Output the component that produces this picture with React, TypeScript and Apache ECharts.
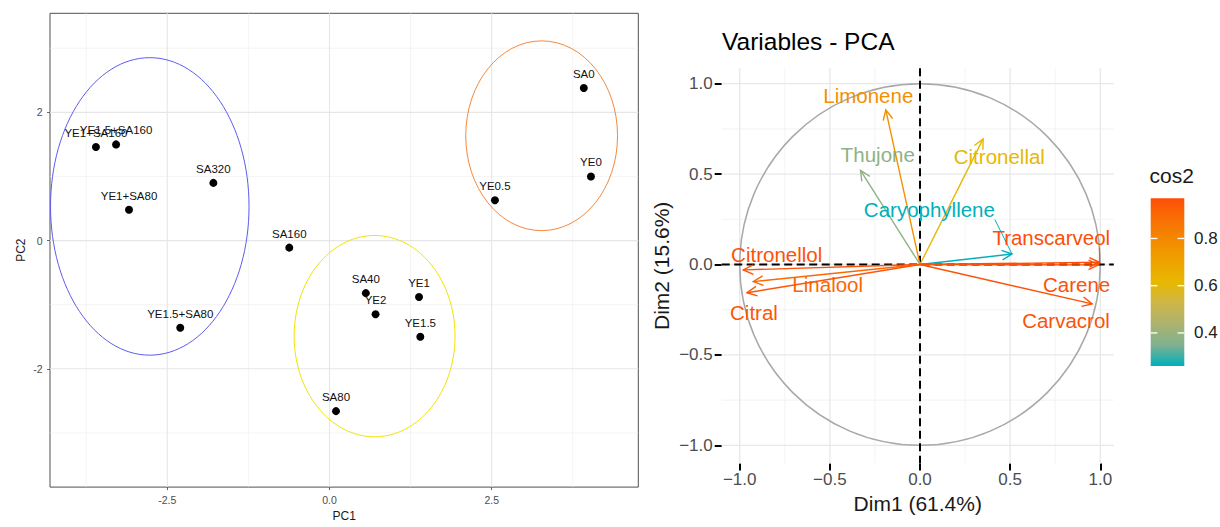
import React, { useEffect, useRef } from 'react';
import * as echarts from 'echarts';

const FONT = '"Liberation Sans", Arial, Helvetica, sans-serif';

// ---------- Left panel: individuals on PC1 / PC2 ----------
const sampleNames = ['SA0', 'YE0', 'YE0.5', 'SA160', 'SA40', 'YE2', 'YE1', 'YE1.5', 'SA80', 'YE1+SA160', 'YE1.5+SA160', 'SA320', 'YE1+SA80', 'YE1.5+SA80'];
const pc1 = [3.92, 4.03, 2.55, -0.62, 0.56, 0.71, 1.38, 1.40, 0.10, -3.60, -3.29, -1.79, -3.09, -2.30];
const pc2 = [2.38, 1.00, 0.63, -0.11, -0.82, -1.15, -0.88, -1.50, -2.66, 1.46, 1.50, 0.90, 0.48, -1.36];

const ellipseColors = ['#5c5cee', '#f5883c', '#f0e600'];
const ellipseCx = [-2.77, 3.27, 0.695];
const ellipseCy = [0.533, 1.635, -1.49];
const ellipseRx = [1.53, 1.17, 1.24];
const ellipseRy = [2.32, 1.48, 1.57];

const pc1Ticks = [-2.5, 0, 2.5];
const pc1Minor = [-3.75, -1.25, 1.25, 3.75];
const pc2Ticks = [-2, 0, 2];
const pc2Minor = [-3, -1, 1, 3];
const pc1Range = [-4.308, 4.76];
const pc2Range = [-3.845, 3.545];

// ---------- Right panel: variables ----------
const varNames = ['Limonene', 'Thujone', 'Citronellal', 'Caryophyllene', 'Transcarveol', 'Carene', 'Carvacrol', 'Citronellol', 'Linalool', 'Citral'];
const dim1 = [-0.19, -0.33, 0.35, 0.51, 0.995, 0.99, 0.955, -0.98, -0.925, -0.96];
const dim2 = [0.855, 0.52, 0.695, 0.058, 0.012, -0.002, -0.218, -0.03, -0.095, -0.156];
const cos2 = [0.77, 0.38, 0.61, 0.26, 0.97, 0.96, 0.96, 0.96, 0.9, 0.95];
const labelX = [-0.287, -0.234, 0.44, 0.052, 0.728, 0.869, 0.81, -0.795, -0.512, -0.921];
const labelY = [0.935, 0.611, 0.596, 0.305, 0.15, -0.108, -0.307, 0.058, -0.11, -0.267];
const showSegment = [0, 0, 0, 1, 1, 0, 0, 0, 0, 0];

const dimTicks = [-1, -0.5, 0, 0.5, 1];
const dimMinor = [-0.75, -0.25, 0.25, 0.75];
const dim1Range = [-1.1, 1.075];
const dim2Range = [-1.1, 1.085];

const cos2Ticks = [0.4, 0.6, 0.8];
const cos2Range = [0.26, 0.97];
// teal -> gold -> red-orange, sampled along a Lab-space path (evenly spaced stops)
const gradientColors = ['#00AFBB', '#80B18F', '#ABB36F', '#CEB649', '#E7B800', '#EEA200', '#F48A00', '#F96F04', '#FC4E07'];

const LABEL_SIZE = 20.5;

function gridData(vMajor: number[], vMinor: number[], hMajor: number[], hMinor: number[]) {
  const out: number[][] = [];
  vMinor.forEach((v) => out.push([v, 0, 0]));
  hMinor.forEach((v) => out.push([v, 1, 0]));
  vMajor.forEach((v) => out.push([v, 0, 1]));
  hMajor.forEach((v) => out.push([v, 1, 1]));
  return out;
}

type LS = { color: string; width: number; dash?: number[] };

function lineRender(styles: LS[]) {
  return (params: any, api: any) => {
    const cs = params.coordSys;
    const v = api.value(0);
    const orient = api.value(1);
    const s = styles[api.value(2)];
    let shape;
    if (orient === 0) {
      const px = api.coord([v, 0])[0];
      shape = { x1: px, y1: cs.y, x2: px, y2: cs.y + cs.height };
    } else {
      const py = api.coord([0, v])[1];
      shape = { x1: cs.x, y1: py, x2: cs.x + cs.width, y2: py };
    }
    return {
      type: 'line',
      shape,
      silent: true,
      style: { stroke: s.color, lineWidth: s.width, lineDash: s.dash || null, fill: null },
    };
  };
}

let measureCtx: CanvasRenderingContext2D | null = null;
function textWidth(t: string, size: number) {
  if (!measureCtx) measureCtx = document.createElement('canvas').getContext('2d');
  if (!measureCtx) return t.length * size * 0.55;
  measureCtx.font = `${size}px ${FONT}`;
  return measureCtx.measureText(t).width;
}

function ellipseRender(colors: string[], width: number) {
  return (params: any, api: any) => {
    const c = api.coord([api.value(0), api.value(1)]);
    const sz = api.size([api.value(2), api.value(3)]);
    return {
      type: 'ellipse',
      shape: { cx: c[0], cy: c[1], rx: sz[0], ry: sz[1] },
      silent: true,
      style: { fill: 'none', stroke: colors[api.value(4)], lineWidth: width },
    };
  };
}

function arrowRender(params: any, api: any) {
  const o = api.coord([0, 0]);
  const t = api.coord([api.value(0), api.value(1)]);
  const color = api.visual('color');
  const ang = Math.atan2(t[1] - o[1], t[0] - o[0]);
  const L = 11;
  const A = Math.PI / 7;
  const w1 = [t[0] - L * Math.cos(ang - A), t[1] - L * Math.sin(ang - A)];
  const w2 = [t[0] - L * Math.cos(ang + A), t[1] - L * Math.sin(ang + A)];
  const lp = api.coord([api.value(3), api.value(4)]);
  const name = varNames[params.dataIndex];
  const children: any[] = [
    { type: 'line', shape: { x1: o[0], y1: o[1], x2: t[0], y2: t[1] }, style: { stroke: color, lineWidth: 1.4 } },
    { type: 'polyline', shape: { points: [w1, t, w2] }, style: { stroke: color, lineWidth: 1.4, fill: null } },
    {
      type: 'text',
      x: lp[0],
      y: lp[1],
      style: { text: name, fill: color, fontSize: LABEL_SIZE, fontFamily: FONT, align: 'center', verticalAlign: 'middle' },
    },
  ];
  if (api.value(5) === 1) {
    const w = textWidth(name, LABEL_SIZE);
    const h = LABEL_SIZE;
    const sx = Math.min(Math.max(t[0], lp[0] - w / 2), lp[0] + w / 2);
    const sy = Math.min(Math.max(t[1], lp[1] - h / 2), lp[1] + h / 2);
    children.push({ type: 'line', shape: { x1: sx, y1: sy, x2: t[0], y2: t[1] }, style: { stroke: color, lineWidth: 1 } });
  }
  return { type: 'group', children, silent: true };
}

export default function App() {
  const ref = useRef<HTMLDivElement>(null);

  useEffect(() => {
    if (!ref.current) return;
    const chart = echarts.init(ref.current, null, { renderer: 'svg' });

    const barLeft = 1150.7;
    const barWidth = 33.6;
    const barTop = 198.3;
    const barHeight = 167.7;
    const valToY = (v: number) => barTop + ((cos2Range[1] - v) / (cos2Range[1] - cos2Range[0])) * barHeight;
    const n = gradientColors.length;
    const barGraphics: any[] = [
      {
        type: 'rect',
        shape: { x: barLeft, y: barTop, width: barWidth, height: barHeight },
        style: {
          fill: new echarts.graphic.LinearGradient(
            0,
            0,
            0,
            1,
            gradientColors.map((c, i) => ({ offset: 1 - i / (n - 1), color: c })).reverse()
          ),
        },
      },
      {
        type: 'text',
        x: 1149.5,
        y: 175,
        style: { text: 'cos2', fontSize: 21, fontFamily: FONT, fill: '#1a1a1a', align: 'left', verticalAlign: 'middle' },
      },
    ];
    cos2Ticks.forEach((v) => {
      const y = valToY(v);
      barGraphics.push({ type: 'line', shape: { x1: barLeft, y1: y, x2: barLeft + 6.7, y2: y }, style: { stroke: '#fff', lineWidth: 1.3 } });
      barGraphics.push({ type: 'line', shape: { x1: barLeft + barWidth - 6.7, y1: y, x2: barLeft + barWidth, y2: y }, style: { stroke: '#fff', lineWidth: 1.3 } });
      barGraphics.push({
        type: 'text',
        x: 1194,
        y,
        style: { text: v.toFixed(1), fontSize: 17, fontFamily: FONT, fill: '#222', align: 'left', verticalAlign: 'middle' },
      });
    });

    const option: any = {
      animation: false,
      backgroundColor: '#fff',
      textStyle: { fontFamily: FONT },
      title: {
        text: 'Variables - PCA',
        left: 722,
        top: 29,
        padding: 0,
        textStyle: { fontSize: 24.5, fontWeight: 'normal', color: '#000', fontFamily: FONT },
      },
      grid: [
        { left: 50, top: 13.3, width: 588.3, height: 483, show: true, borderColor: '#505050', borderWidth: 1, backgroundColor: 'transparent' },
        { left: 721.7, top: 68.3, width: 392.1, height: 395.1, show: false },
      ],
      xAxis: [
        {
          gridIndex: 0,
          type: 'value',
          position: 'bottom',
          min: pc1Range[0],
          max: pc1Range[1],
          axisLine: { show: false, onZero: false },
          splitLine: { show: false },
          axisTick: { show: true, customValues: pc1Ticks, length: 3, lineStyle: { color: '#444', width: 0.8 } },
          axisLabel: { customValues: pc1Ticks, fontSize: 10.5, color: '#4d4d4d', margin: 7, fontFamily: FONT, formatter: (v: number) => v.toFixed(1) },
          name: 'PC1',
          nameLocation: 'middle',
          nameGap: 20.5,
          nameTextStyle: { fontSize: 12, color: '#1a1a1a', fontFamily: FONT },
        },
        {
          gridIndex: 1,
          type: 'value',
          position: 'bottom',
          min: dim1Range[0],
          max: dim1Range[1],
          axisLine: { show: false, onZero: false },
          splitLine: { show: false },
          axisTick: { show: true, customValues: dimTicks, length: 7, lineStyle: { color: '#000', width: 2 } },
          axisLabel: {
            customValues: dimTicks,
            fontSize: 17,
            color: '#4d4d4d',
            margin: 8,
            fontFamily: FONT,
            formatter: (v: number) => v.toFixed(1).replace('-', '\u2212'),
          },
          name: 'Dim1 (61.4%)',
          nameLocation: 'middle',
          nameGap: 28.8,
          nameTextStyle: { fontSize: 21, color: '#1a1a1a', fontFamily: FONT },
        },
      ],
      yAxis: [
        {
          gridIndex: 0,
          type: 'value',
          position: 'left',
          min: pc2Range[0],
          max: pc2Range[1],
          axisLine: { show: false, onZero: false },
          splitLine: { show: false },
          axisTick: { show: true, customValues: pc2Ticks, length: 3, lineStyle: { color: '#444', width: 0.8 } },
          axisLabel: { customValues: pc2Ticks, fontSize: 10.5, color: '#4d4d4d', margin: 7.3, fontFamily: FONT, formatter: (v: number) => String(v) },
          name: 'PC2',
          nameLocation: 'middle',
          nameGap: 23,
          nameTextStyle: { fontSize: 12, color: '#1a1a1a', fontFamily: FONT },
        },
        {
          gridIndex: 1,
          type: 'value',
          position: 'left',
          min: dim2Range[0],
          max: dim2Range[1],
          axisLine: { show: false, onZero: false },
          splitLine: { show: false },
          axisTick: { show: true, customValues: dimTicks, length: 7, lineStyle: { color: '#000', width: 2 } },
          axisLabel: {
            customValues: dimTicks,
            fontSize: 17,
            color: '#4d4d4d',
            margin: 9,
            fontFamily: FONT,
            formatter: (v: number) => v.toFixed(1).replace('-', '\u2212'),
          },
          name: 'Dim2 (15.6%)',
          nameLocation: 'middle',
          nameGap: 49.5,
          nameTextStyle: { fontSize: 21, color: '#1a1a1a', fontFamily: FONT },
        },
      ],
      visualMap: {
        type: 'continuous',
        show: false,
        min: cos2Range[0],
        max: cos2Range[1],
        dimension: 2,
        seriesIndex: 6,
        inRange: { color: gradientColors },
      },
      graphic: barGraphics,
      series: [
        // 0: left grid lines
        {
          type: 'custom',
          xAxisIndex: 0,
          yAxisIndex: 0,
          z: 1,
          silent: true,
          renderItem: lineRender([
            { color: '#ececec', width: 0.6 },
            { color: '#e6e6e6', width: 1.1 },
          ]),
          data: gridData(pc1Ticks, pc1Minor, pc2Ticks, pc2Minor),
        },
        // 1: ellipses
        {
          type: 'custom',
          xAxisIndex: 0,
          yAxisIndex: 0,
          z: 2,
          silent: true,
          renderItem: ellipseRender(ellipseColors, 1),
          data: ellipseCx.map((cx, i) => [cx, ellipseCy[i], ellipseRx[i], ellipseRy[i], i]),
        },
        // 2: individuals
        {
          type: 'scatter',
          xAxisIndex: 0,
          yAxisIndex: 0,
          z: 3,
          symbolSize: 8,
          itemStyle: { color: '#000', opacity: 1 },
          label: {
            show: true,
            position: 'top',
            distance: 4,
            formatter: '{b}',
            fontSize: 11.5,
            color: '#111',
            fontFamily: FONT,
          },
          data: sampleNames.map((nm, i) => ({ name: nm, value: [pc1[i], pc2[i]] })),
        },
        // 3: right grid lines
        {
          type: 'custom',
          xAxisIndex: 1,
          yAxisIndex: 1,
          z: 1,
          silent: true,
          renderItem: lineRender([
            { color: '#eeeeee', width: 0.7 },
            { color: '#e8e8e8', width: 1.3 },
          ]),
          data: gridData(dimTicks, dimMinor, dimTicks, dimMinor),
        },
        // 4: correlation circle
        {
          type: 'custom',
          xAxisIndex: 1,
          yAxisIndex: 1,
          z: 2,
          silent: true,
          renderItem: ellipseRender(['#a8a8a8'], 1.5),
          data: [[0, 0, 1, 1, 0]],
        },
        // 5: dashed zero lines
        {
          type: 'custom',
          xAxisIndex: 1,
          yAxisIndex: 1,
          z: 3,
          silent: true,
          renderItem: lineRender([{ color: '#000', width: 2, dash: [8, 4.5] }]),
          data: [
            [0, 0, 0],
            [0, 1, 0],
          ],
        },
        // 6: variable arrows
        {
          type: 'custom',
          xAxisIndex: 1,
          yAxisIndex: 1,
          z: 4,
          silent: true,
          renderItem: arrowRender,
          data: varNames.map((nm, i) => [dim1[i], dim2[i], cos2[i], labelX[i], labelY[i], showSegment[i]]),
        },
      ],
    };

    chart.setOption(option);
    return () => chart.dispose();
  }, []);

  return (
    <div
      ref={ref}
      style={{ position: 'fixed', left: 0, top: 0, width: 1220, height: 527, background: '#fff' }}
    />
  );
}
